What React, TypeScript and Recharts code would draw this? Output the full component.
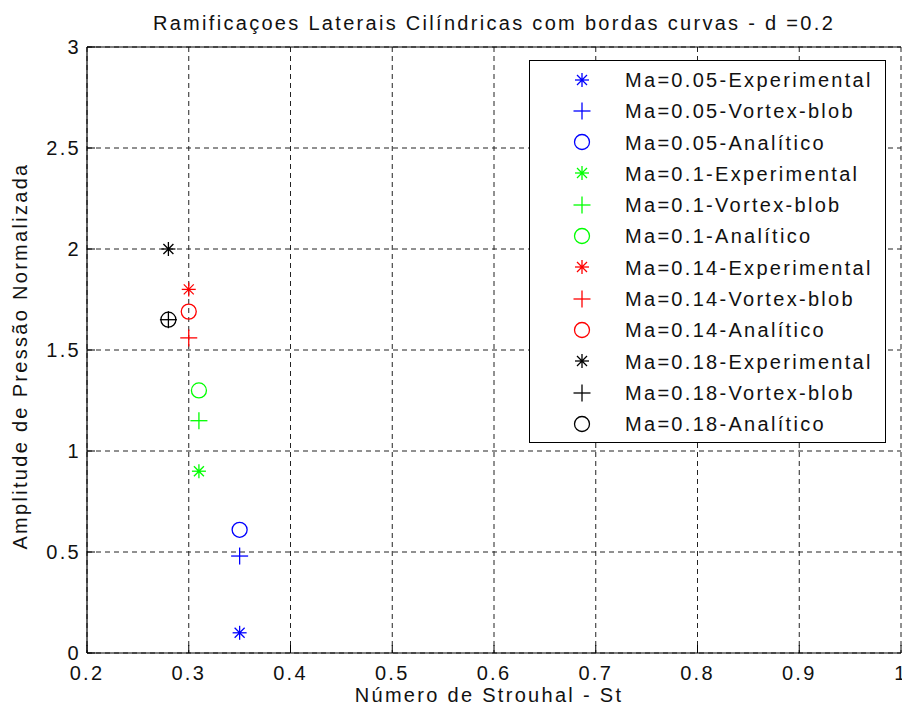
import React from 'react';
import { ScatterChart, Scatter, XAxis, YAxis, CartesianGrid, Legend, Label } from 'recharts';

const xTicks = [0.2, 0.3, 0.4, 0.5, 0.6, 0.7, 0.8, 0.9, 1];
const yTicks = [0, 0.5, 1, 1.5, 2, 2.5, 3];

const chartTitle = 'Ramificaçoes Laterais Cilíndricas com bordas curvas - d =0.2';
const xLabel = 'Número de Strouhal - St';
const yLabel = 'Amplitude de Pressão Normalizada';

const ma005Experimental = [{ st: 0.35, amp: 0.1 }];
const ma005Vortex = [{ st: 0.35, amp: 0.48 }];
const ma005Analitico = [{ st: 0.35, amp: 0.61 }];
const ma01Experimental = [{ st: 0.31, amp: 0.9 }];
const ma01Vortex = [{ st: 0.31, amp: 1.15 }];
const ma01Analitico = [{ st: 0.31, amp: 1.3 }];
const ma014Experimental = [{ st: 0.3, amp: 1.8 }];
const ma014Vortex = [{ st: 0.3, amp: 1.56 }];
const ma014Analitico = [{ st: 0.3, amp: 1.69 }];
const ma018Experimental = [{ st: 0.28, amp: 2.0 }];
const ma018Vortex = [{ st: 0.28, amp: 1.65 }];
const ma018Analitico = [{ st: 0.28, amp: 1.65 }];

type Kind = 'star' | 'plus' | 'circle';

const seriesList: { name: string; data: { st: number; amp: number }[]; color: string; kind: Kind }[] = [
  { name: 'Ma=0.05-Experimental', data: ma005Experimental, color: '#0000ff', kind: 'star' },
  { name: 'Ma=0.05-Vortex-blob', data: ma005Vortex, color: '#0000ff', kind: 'plus' },
  { name: 'Ma=0.05-Analítico', data: ma005Analitico, color: '#0000ff', kind: 'circle' },
  { name: 'Ma=0.1-Experimental', data: ma01Experimental, color: '#00ff00', kind: 'star' },
  { name: 'Ma=0.1-Vortex-blob', data: ma01Vortex, color: '#00ff00', kind: 'plus' },
  { name: 'Ma=0.1-Analítico', data: ma01Analitico, color: '#00ff00', kind: 'circle' },
  { name: 'Ma=0.14-Experimental', data: ma014Experimental, color: '#ff0000', kind: 'star' },
  { name: 'Ma=0.14-Vortex-blob', data: ma014Vortex, color: '#ff0000', kind: 'plus' },
  { name: 'Ma=0.14-Analítico', data: ma014Analitico, color: '#ff0000', kind: 'circle' },
  { name: 'Ma=0.18-Experimental', data: ma018Experimental, color: '#000000', kind: 'star' },
  { name: 'Ma=0.18-Vortex-blob', data: ma018Vortex, color: '#000000', kind: 'plus' },
  { name: 'Ma=0.18-Analítico', data: ma018Analitico, color: '#000000', kind: 'circle' },
];

const FONT = '"Liberation Sans", Arial, Helvetica, sans-serif';
const FS = 20;
const LS = 2.3;

function drawMarker(kind: Kind, cx: number, cy: number, color: string) {
  const sw = 1.3;
  if (kind === 'star') {
    const h = 7;
    const d = 5;
    return (
      <g stroke={color} strokeWidth={sw} fill="none">
        <line x1={cx - h} y1={cy} x2={cx + h} y2={cy} />
        <line x1={cx} y1={cy - h} x2={cx} y2={cy + h} />
        <line x1={cx - d} y1={cy - d} x2={cx + d} y2={cy + d} />
        <line x1={cx - d} y1={cy + d} x2={cx + d} y2={cy - d} />
        <circle cx={cx} cy={cy} r={1.6} fill={color} stroke="none" />
      </g>
    );
  }
  if (kind === 'plus') {
    const h = 8.5;
    return (
      <g stroke={color} strokeWidth={sw} fill="none">
        <line x1={cx - h} y1={cy} x2={cx + h} y2={cy} />
        <line x1={cx} y1={cy - h} x2={cx} y2={cy + h} />
      </g>
    );
  }
  return <circle cx={cx} cy={cy} r={7.5} stroke={color} strokeWidth={sw} fill="none" />;
}

const renderLegend = () => (
  <div
    style={{
      width: 357,
      height: 383,
      boxSizing: 'border-box',
      border: '1.5px solid #000',
      background: '#fff',
      paddingTop: 3,
      fontFamily: FONT,
      fontSize: FS,
      letterSpacing: LS,
      color: '#111',
    }}
  >
    {seriesList.map((s) => (
      <div key={s.name} style={{ height: 31.3, position: 'relative' }}>
        <svg width={24} height={24} style={{ position: 'absolute', left: 40, top: 3.6 }}>
          {drawMarker(s.kind, 12, 12, s.color)}
        </svg>
        <span style={{ position: 'absolute', left: 95, top: 3, lineHeight: '26px', whiteSpace: 'nowrap' }}>
          {s.name}
        </span>
      </div>
    ))}
  </div>
);

const renderYLabel = (props: any) => {
  const vb = props.viewBox || { x: 0, y: 47, width: 87, height: 606 };
  const cx = vb.x + 20;
  const cy = vb.y + vb.height / 2 + 6;
  return (
    <text
      x={cx}
      y={cy}
      transform={`rotate(-90 ${cx} ${cy})`}
      textAnchor="middle"
      dominantBaseline="central"
      fontFamily={FONT}
      fontSize={FS}
      letterSpacing={LS}
      fill="#111"
    >
      {yLabel}
    </text>
  );
};

const tickStyle = { fill: '#111', fontSize: FS, fontFamily: FONT, letterSpacing: LS };

export default function App() {
  return (
    <div
      style={{
        position: 'absolute',
        left: 0,
        top: 0,
        width: 902,
        height: 711,
        overflow: 'hidden',
        background: '#fff',
      }}
    >
      <div
        style={{
          position: 'absolute',
          left: 87,
          top: 13,
          width: 814,
          textAlign: 'center',
          fontFamily: FONT,
          fontSize: FS,
          letterSpacing: LS,
          lineHeight: '20px',
          color: '#111',
          whiteSpace: 'nowrap',
          zIndex: 2,
        }}
      >
        {chartTitle}
      </div>
      <ScatterChart width={902} height={711} margin={{ top: 46, right: 1, bottom: 0, left: 0 }}>
        <CartesianGrid stroke="#222" strokeDasharray="5 4" />
        <XAxis
          xAxisId={0}
          dataKey="st"
          type="number"
          domain={[0.2, 1]}
          ticks={xTicks}
          interval={0}
          allowDataOverflow
          height={58}
          tickSize={-8}
          tickMargin={21}
          tick={tickStyle}
          tickFormatter={(v: number) => String(v)}
          axisLine={{ stroke: '#000', strokeWidth: 1.2 }}
          tickLine={{ stroke: '#000' }}
        >
          <Label
            value={xLabel}
            position="insideBottom"
            offset={9}
            dx={-5}
            style={{ fontFamily: FONT, fontSize: FS, letterSpacing: LS, fill: '#111' }}
          />
        </XAxis>
        <XAxis
          xAxisId="top"
          orientation="top"
          type="number"
          domain={[0.2, 1]}
          ticks={xTicks}
          interval={0}
          height={1}
          tickSize={-8}
          tick={false}
          axisLine={{ stroke: '#000', strokeWidth: 1.2 }}
          tickLine={{ stroke: '#000' }}
        />
        <YAxis
          yAxisId={0}
          dataKey="amp"
          type="number"
          domain={[0, 3]}
          ticks={yTicks}
          interval={0}
          allowDataOverflow
          width={87}
          tickSize={-8}
          tickMargin={14}
          tick={tickStyle}
          tickFormatter={(v: number) => String(v)}
          axisLine={{ stroke: '#000', strokeWidth: 1.2 }}
          tickLine={{ stroke: '#000' }}
          label={renderYLabel}
        />
        <YAxis
          yAxisId="right"
          orientation="right"
          type="number"
          domain={[0, 3]}
          ticks={yTicks}
          interval={0}
          width={0}
          tickSize={-8}
          tick={false}
          axisLine={{ stroke: '#000', strokeWidth: 1.2 }}
          tickLine={{ stroke: '#000' }}
        />
        <Legend
          content={renderLegend}
          layout="horizontal"
          verticalAlign="middle"
          align="center"
          wrapperStyle={{ left: 529, top: 60, width: 357, height: 383 }}
        />
        {seriesList.map((s) => (
          <Scatter
            key={s.name}
            name={s.name}
            data={s.data}
            xAxisId={0}
            yAxisId={0}
            isAnimationActive={false}
            shape={(p: any) => drawMarker(s.kind, p.cx, p.cy, s.color)}
          />
        ))}
      </ScatterChart>
    </div>
  );
}
